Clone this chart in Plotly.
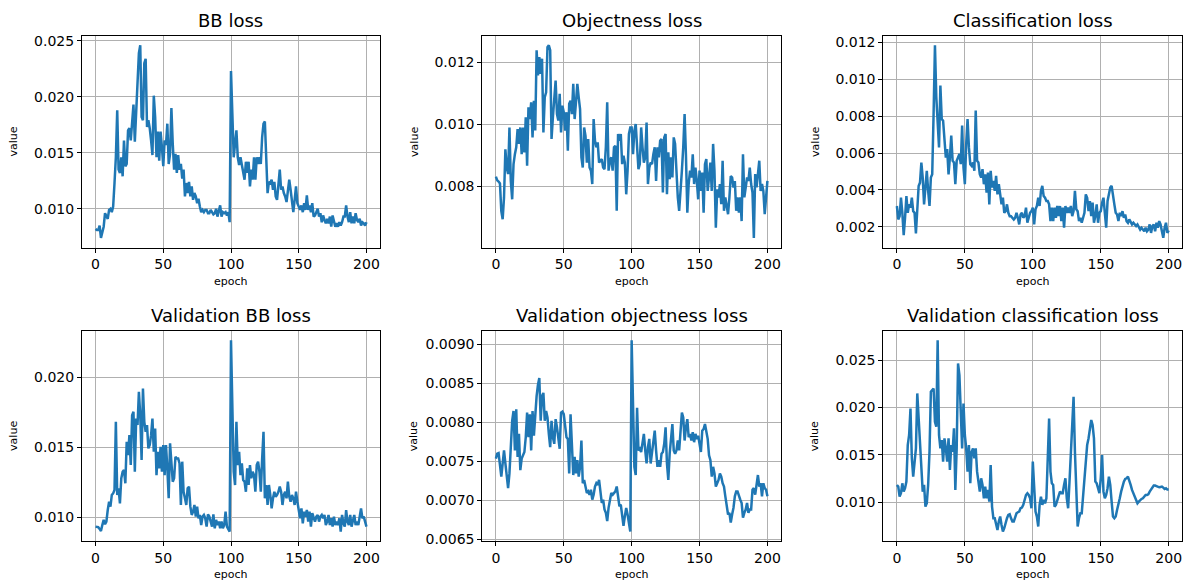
import plotly.graph_objects as go

# Training history: one value per epoch, stored in thousandths (x 1e-3)
epochs = list(range(0, 201))

bb_loss = [
    8.2, 8.1, 8.1, 8.5, 7.4, 7.9, 8.4, 9.6, 9.3, 9.1,
    9.9, 10.0, 9.7, 10.2, 12.3, 14.6, 18.8, 13.5, 13.2, 14.6,
    12.9, 16.1, 13.8, 14.0, 17.0, 17.2, 16.1, 17.9, 19.3, 16.0,
    18.5, 21.5, 23.9, 24.6, 18.2, 17.9, 23.0, 23.4, 17.3, 17.9,
    17.2, 16.1, 14.8, 20.1, 18.2, 14.6, 16.9, 14.3, 16.9, 15.5,
    13.8, 16.1, 15.7, 17.6, 14.0, 14.9, 19.0, 15.8, 13.5, 14.9,
    13.2, 14.8, 13.5, 14.0, 12.7, 13.5, 11.1, 12.3, 11.4, 12.4,
    11.1, 12.0, 10.8, 11.4, 11.1, 10.5, 10.9, 10.2, 9.7, 9.9,
    9.7, 9.9, 9.9, 9.6, 9.6, 9.9, 9.7, 9.5, 9.6, 10.0,
    9.3, 9.8, 10.3, 9.3, 9.7, 9.6, 9.7, 9.4, 9.7, 8.8,
    22.3, 18.5, 14.6, 15.8, 17.0, 14.6, 13.9, 14.6, 14.0, 13.5,
    12.6, 14.2, 13.2, 14.2, 12.0, 13.5, 12.6, 14.6, 12.6, 14.6,
    14.0, 14.6, 14.0, 16.4, 17.6, 17.8, 14.6, 11.4, 12.4, 12.3,
    12.6, 11.7, 12.4, 11.1, 10.8, 12.3, 13.5, 11.7, 12.0, 11.4,
    11.1, 10.6, 11.7, 12.6, 11.7, 10.8, 9.7, 10.8, 12.0, 10.5,
    10.2, 9.9, 10.3, 9.7, 10.5, 9.9, 11.2, 9.9, 10.3, 9.7,
    10.5, 9.3, 9.4, 9.7, 10.0, 9.3, 9.6, 8.8, 9.4, 9.0,
    8.7, 9.1, 8.7, 9.3, 8.4, 9.4, 8.8, 8.4, 8.7, 8.4,
    8.8, 8.5, 8.8, 9.3, 9.3, 10.3, 9.3, 8.8, 9.7, 8.7,
    9.3, 8.7, 9.6, 9.0, 8.8, 9.1, 8.5, 8.8, 8.7, 8.5,
    8.8,
]

objectness_loss = [
    8.32, 8.20, 8.16, 8.10, 7.21, 6.95, 7.65, 9.20, 8.61, 8.40,
    9.90, 8.18, 7.59, 8.72, 9.04, 9.26, 9.85, 9.37, 9.90, 9.04,
    9.90, 9.10, 10.23, 8.67, 10.55, 10.17, 10.71, 9.58, 10.76, 9.80,
    12.38, 11.57, 12.16, 11.62, 12.11, 9.74, 10.87, 11.03, 12.48, 12.54,
    12.38, 9.53, 10.23, 10.87, 11.41, 10.33, 10.12, 10.98, 9.74, 10.60,
    10.39, 9.80, 10.39, 9.15, 10.66, 10.76, 10.33, 11.30, 10.17, 10.71,
    11.30, 10.87, 10.49, 8.94, 8.61, 9.90, 9.63, 8.77, 9.53, 8.61,
    8.51, 8.08, 10.17, 9.47, 9.26, 9.42, 8.77, 8.83, 8.88, 8.61,
    8.56, 9.26, 10.71, 8.51, 8.83, 8.94, 8.51, 9.26, 9.31, 7.22,
    9.69, 9.47, 9.69, 8.72, 8.99, 8.77, 7.75, 8.51, 9.69, 9.90,
    9.90, 9.04, 9.80, 10.01, 9.26, 8.56, 8.72, 9.90, 9.26, 8.77,
    8.94, 10.06, 8.08, 8.61, 8.77, 8.72, 9.04, 9.26, 8.18, 9.26,
    8.94, 9.47, 9.53, 7.81, 9.58, 9.69, 7.75, 9.10, 8.24, 8.94,
    8.29, 9.58, 9.37, 8.29, 7.65, 7.22, 8.08, 8.51, 9.26, 10.33,
    8.99, 7.16, 8.08, 8.51, 8.29, 9.04, 8.08, 8.61, 8.18, 7.59,
    8.51, 7.86, 8.45, 7.16, 8.72, 8.88, 7.86, 8.29, 8.77, 7.86,
    9.37, 8.51, 6.68, 7.91, 7.65, 8.08, 7.43, 8.83, 7.22, 7.65,
    7.32, 7.11, 7.65, 8.34, 8.29, 7.97, 8.18, 7.22, 7.65, 7.16,
    7.65, 6.89, 9.04, 7.65, 7.97, 8.29, 8.18, 8.61, 8.08, 7.81,
    6.35, 8.40, 7.97, 8.51, 8.83, 7.86, 8.08, 7.86, 7.11, 7.65,
    8.18,
]

classification_loss = [
    3.13, 2.40, 2.58, 3.58, 2.76, 1.55, 2.49, 3.67, 2.76, 3.22,
    3.04, 3.58, 2.85, 2.76, 1.64, 3.04, 4.22, 4.40, 5.49, 4.67,
    3.22, 4.13, 5.04, 3.95, 3.13, 4.67, 4.85, 8.13, 11.85, 9.04,
    7.22, 6.31, 9.67, 7.85, 7.76, 6.40, 5.76, 6.22, 4.85, 5.76,
    6.95, 5.58, 5.49, 4.31, 5.58, 5.76, 5.95, 5.40, 7.49, 5.22,
    4.31, 6.49, 7.85, 6.31, 5.40, 5.31, 5.49, 5.04, 8.31, 5.58,
    5.49, 4.85, 4.67, 5.13, 4.31, 4.85, 3.85, 4.95, 3.22, 5.04,
    4.13, 4.49, 3.95, 4.76, 3.76, 4.31, 3.76, 3.22, 3.58, 2.76,
    2.85, 3.22, 2.76, 2.58, 2.58, 2.49, 2.40, 2.49, 2.76, 2.49,
    2.13, 2.67, 2.76, 2.49, 2.58, 3.04, 2.22, 2.49, 2.76, 2.85,
    3.04, 2.13, 2.95, 3.13, 3.58, 3.13, 3.95, 4.22, 3.67, 3.58,
    3.40, 3.40, 3.22, 2.31, 3.04, 2.31, 3.04, 2.49, 3.13, 2.58,
    3.13, 2.31, 3.04, 1.95, 3.13, 2.76, 3.04, 2.76, 3.13, 2.58,
    2.85, 3.95, 2.95, 2.85, 2.31, 2.49, 2.22, 2.49, 2.76, 3.76,
    3.58, 2.85, 3.40, 2.58, 3.31, 2.22, 2.58, 3.22, 2.22, 2.76,
    2.85, 3.31, 3.58, 2.76, 1.95, 3.40, 3.85, 4.13, 4.22, 3.58,
    3.22, 2.76, 2.67, 2.31, 2.76, 2.58, 2.85, 2.49, 2.67, 2.31,
    2.22, 2.40, 2.22, 2.13, 2.22, 2.13, 2.04, 2.13, 1.95, 1.85,
    1.95, 1.85, 1.76, 1.95, 1.76, 1.85, 2.13, 1.67, 2.04, 2.13,
    1.76, 2.22, 1.95, 2.31, 2.13, 1.76, 1.40, 1.95, 2.22, 1.67,
    1.80,
]

val_bb_loss = [
    9.33, 9.33, 9.29, 9.17, 9.02, 9.45, 9.81, 9.50, 9.69, 10.52,
    11.12, 10.76, 11.60, 11.71, 11.95, 16.83, 11.60, 12.07, 11.00, 12.79,
    13.26, 13.38, 12.43, 15.40, 14.45, 15.88, 13.74, 17.31, 17.55, 13.26,
    17.07, 16.60, 18.98, 17.31, 14.10, 19.21, 16.83, 16.12, 16.60, 14.93,
    15.17, 15.88, 17.07, 14.69, 16.36, 13.02, 14.69, 13.50, 15.05, 13.26,
    15.17, 13.02, 15.17, 13.50, 11.36, 15.29, 13.74, 12.55, 12.79, 14.33,
    14.21, 14.21, 13.86, 10.88, 13.98, 11.83, 11.36, 10.88, 12.07, 12.19,
    10.76, 10.17, 10.40, 10.88, 10.05, 10.76, 9.93, 10.17, 9.45, 10.05,
    10.17, 9.93, 9.33, 10.21, 10.05, 9.57, 9.33, 10.21, 9.21, 9.81,
    9.45, 9.69, 9.21, 9.69, 9.21, 9.45, 10.40, 9.33, 9.10, 8.98,
    22.67, 17.79, 13.26, 12.31, 16.83, 13.74, 14.69, 13.02, 13.86, 12.67,
    12.55, 11.83, 13.50, 12.31, 13.74, 12.79, 13.26, 13.02, 11.83, 13.74,
    13.98, 13.26, 11.83, 14.21, 16.12, 11.36, 12.31, 10.88, 12.31, 11.60,
    10.64, 11.36, 11.83, 11.48, 11.60, 11.83, 12.19, 11.83, 10.88, 11.60,
    11.83, 11.36, 12.55, 11.48, 11.12, 11.60, 11.36, 10.88, 11.83, 11.12,
    10.64, 9.93, 10.64, 9.57, 10.40, 10.05, 10.52, 9.69, 10.40, 9.33,
    10.29, 9.93, 9.69, 10.05, 10.17, 9.69, 10.05, 10.17, 9.93, 10.17,
    9.45, 9.69, 10.17, 9.45, 9.93, 9.33, 10.05, 9.45, 9.69, 9.45,
    9.93, 8.98, 10.17, 9.57, 9.33, 10.52, 9.69, 9.45, 10.17, 9.33,
    9.69, 10.17, 9.45, 9.69, 9.45, 10.17, 10.64, 9.93, 10.05, 9.69,
    9.33,
]

val_objectness_loss = [
    7.535, 7.598, 7.606, 7.472, 7.303, 7.472, 7.640, 7.472, 7.261, 7.156,
    7.345, 7.640, 8.019, 8.145, 7.640, 8.166, 7.556, 7.851, 7.387, 7.535,
    7.577, 7.619, 7.808, 8.124, 7.808, 8.103, 7.640, 8.145, 7.829, 8.103,
    8.335, 8.482, 8.566, 8.019, 8.335, 8.377, 8.019, 8.145, 8.061, 7.851,
    7.682, 8.019, 7.808, 7.724, 8.040, 7.935, 7.808, 7.661, 8.124, 8.137,
    8.103, 7.977, 7.808, 7.787, 7.345, 8.103, 7.682, 7.324, 7.556, 7.345,
    7.514, 7.303, 7.429, 7.766, 7.219, 7.261, 7.177, 7.093, 7.114, 7.072,
    7.135, 7.008, 7.072, 7.177, 7.219, 7.198, 7.261, 7.135, 6.966, 7.008,
    6.882, 6.840, 6.735, 6.903, 7.008, 7.093, 7.072, 7.093, 7.114, 7.177,
    7.051, 6.924, 6.945, 6.819, 6.672, 6.798, 6.903, 6.819, 6.720, 6.600,
    9.051, 7.977, 7.429, 7.324, 8.187, 7.640, 7.661, 7.619, 7.724, 7.851,
    7.640, 7.472, 7.682, 7.787, 7.472, 7.640, 7.724, 7.893, 7.640, 7.429,
    7.514, 7.429, 7.598, 7.619, 7.724, 7.935, 7.472, 7.261, 7.598, 7.808,
    7.977, 7.640, 7.598, 7.640, 7.766, 7.640, 7.851, 8.124, 8.061, 7.766,
    7.935, 8.040, 7.808, 7.851, 7.766, 7.872, 7.745, 7.851, 7.787, 7.829,
    7.724, 7.619, 7.893, 7.914, 7.977, 7.893, 7.787, 7.577, 7.514, 7.303,
    7.429, 7.345, 7.177, 7.219, 7.261, 7.345, 7.303, 7.219, 7.177, 7.051,
    6.924, 6.819, 6.840, 6.714, 6.819, 6.903, 7.051, 7.114, 7.114, 7.051,
    7.008, 6.966, 6.777, 6.840, 6.882, 6.966, 6.840, 6.882, 6.882, 7.135,
    7.156, 7.072, 7.219, 7.324, 7.177, 7.219, 7.051, 7.219, 7.156, 7.135,
    7.051,
]

val_classification_loss = [
    11.83, 11.65, 10.60, 10.95, 12.00, 11.12, 11.48, 12.18, 16.04, 17.10,
    19.90, 14.64, 12.70, 14.29, 15.69, 21.49, 18.85, 16.74, 13.93, 11.12,
    11.83, 9.54, 9.89, 11.83, 15.34, 21.66, 21.84, 22.01, 18.50, 17.97,
    27.10, 17.10, 15.69, 16.57, 14.29, 16.74, 15.69, 14.29, 16.74, 13.41,
    16.04, 15.34, 17.80, 11.30, 15.69, 24.65, 23.42, 18.85, 15.69, 20.43,
    17.10, 15.69, 13.23, 16.04, 12.00, 15.34, 15.69, 14.64, 15.69, 13.23,
    12.18, 11.12, 12.53, 11.83, 10.42, 11.65, 10.42, 11.30, 10.07, 13.93,
    9.54, 8.31, 8.31, 7.79, 7.08, 7.96, 8.49, 7.61, 6.91, 7.26,
    7.96, 8.31, 8.67, 8.74, 8.31, 7.96, 7.96, 8.31, 8.84, 8.95,
    9.02, 9.37, 9.44, 9.72, 10.25, 10.77, 10.95, 10.77, 10.42, 9.37,
    14.29, 11.48, 9.02, 8.49, 7.44, 9.72, 10.60, 9.72, 10.25, 9.89,
    10.42, 14.64, 18.85, 13.23, 12.00, 11.83, 9.54, 9.72, 10.25, 10.77,
    11.12, 10.95, 10.95, 11.83, 12.53, 10.42, 9.37, 12.18, 15.34, 18.15,
    21.13, 15.34, 11.12, 7.44, 8.31, 8.84, 8.84, 10.77, 12.88, 14.99,
    16.04, 16.74, 17.80, 18.68, 18.15, 16.74, 12.18, 12.00, 11.48, 10.95,
    12.53, 14.99, 11.12, 10.42, 10.77, 11.48, 12.70, 11.83, 10.07, 8.49,
    8.31, 8.49, 9.19, 9.72, 10.42, 11.12, 11.83, 12.18, 12.46, 12.53,
    12.70, 12.35, 11.83, 11.30, 10.95, 10.60, 10.25, 9.89, 10.07, 10.25,
    10.35, 10.42, 10.60, 10.77, 10.77, 10.84, 11.12, 11.30, 11.55, 11.76,
    11.76, 11.69, 11.62, 11.58, 11.62, 11.65, 11.55, 11.40, 11.48, 11.34,
    11.34,
]

titles = [
    "BB loss", "Objectness loss", "Classification loss",
    "Validation BB loss", "Validation objectness loss", "Validation classification loss",
]
series = [bb_loss, objectness_loss, classification_loss,
          val_bb_loss, val_objectness_loss, val_classification_loss]

x_ticks = [0, 50, 100, 150, 200]
y_ticks = [
    [0.010, 0.015, 0.020, 0.025],
    [0.008, 0.010, 0.012],
    [0.002, 0.004, 0.006, 0.008, 0.010, 0.012],
    [0.010, 0.015, 0.020],
    [0.0065, 0.0070, 0.0075, 0.0080, 0.0085, 0.0090],
    [0.010, 0.015, 0.020, 0.025],
]
y_formats = ["{:.3f}", "{:.3f}", "{:.3f}", "{:.3f}", "{:.4f}", "{:.3f}"]

# Figure geometry (pixels)
W, H = 1192, 588
cols_px = [(82.0, 380.0), (482.3, 781.0), (883.3, 1182.3)]
rows_px = [(35.7, 247.5), (330.7, 541.1)]

FONT = "DejaVu Sans"
LINE = "#1f77b4"

fig = go.Figure()
annotations = []
layout_axes = {}

for i, (title, vals) in enumerate(zip(titles, series)):
    r, c = divmod(i, 3)
    x0, x1 = cols_px[c]
    top, bottom = rows_px[r]
    xdom = [x0 / W, x1 / W]
    ydom = [1 - bottom / H, 1 - top / H]
    n = i + 1
    xa = "x" if n == 1 else f"x{n}"
    ya = "y" if n == 1 else f"y{n}"

    y = [v / 1000.0 for v in vals]
    fig.add_trace(go.Scatter(
        x=epochs, y=y, mode="lines",
        line=dict(color=LINE, width=2.5),
        xaxis=xa, yaxis=ya, showlegend=False, hoverinfo="skip",
    ))

    lo, hi = min(y), max(y)
    pad = 0.05 * (hi - lo)
    xpad = 0.05 * (max(epochs) - min(epochs))

    common = dict(
        showline=True, linecolor="black", linewidth=1, mirror=True,
        ticks="outside", ticklen=4, tickwidth=1, tickcolor="black",
        showgrid=True, gridcolor="#b0b0b0", gridwidth=1,
        zeroline=False, automargin=False,
        tickfont=dict(family=FONT, size=14, color="black"),
    )
    layout_axes[("xaxis" if n == 1 else f"xaxis{n}")] = dict(
        common, domain=xdom, anchor=ya,
        range=[min(epochs) - xpad, max(epochs) + xpad],
        tickvals=x_ticks, ticktext=[str(t) for t in x_ticks],
    )
    layout_axes[("yaxis" if n == 1 else f"yaxis{n}")] = dict(
        common, domain=ydom, anchor=xa,
        range=[lo - pad, hi + pad],
        tickvals=y_ticks[i], ticktext=[y_formats[i].format(t) for t in y_ticks[i]],
    )

    xc = (xdom[0] + xdom[1]) / 2
    annotations.append(dict(
        text=title, x=xc, y=ydom[1], xref="paper", yref="paper",
        xanchor="center", yanchor="bottom", yshift=3, showarrow=False,
        font=dict(family=FONT, size=18, color="black"),
    ))
    annotations.append(dict(
        text="epoch", x=xc, y=ydom[0], xref="paper", yref="paper",
        xanchor="center", yanchor="top", yshift=-25, showarrow=False,
        font=dict(family=FONT, size=11, color="black"),
    ))
    annotations.append(dict(
        text="value", x=xdom[0], y=(ydom[0] + ydom[1]) / 2, xref="paper", yref="paper",
        xanchor="center", yanchor="middle", xshift=-68, textangle=-90, showarrow=False,
        font=dict(family=FONT, size=11, color="black"),
    ))

fig.update_layout(
    width=W, height=H,
    margin=dict(l=0, r=0, t=0, b=0),
    paper_bgcolor="white", plot_bgcolor="white",
    font=dict(family=FONT, color="black"),
    annotations=annotations,
    **layout_axes,
)

fig.write_html("out.html")
